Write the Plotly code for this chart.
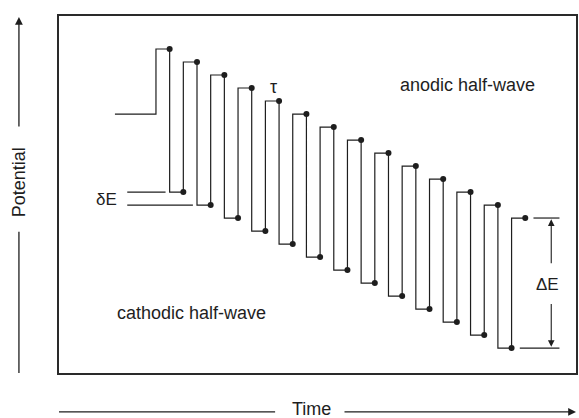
import plotly.graph_objects as go

# ---- data (time in half-periods tau, potential in units of step dE) ----
initial_time = [-3, 0]
initial_potential = [18, 18]
top_time = [1, 3, 5, 7, 9, 11, 13, 15, 17, 19, 21, 23, 25, 27]
top_potential = [23, 22, 21, 20, 19, 18, 17, 16, 15, 14, 13, 12, 11, 10]
bottom_time = [2, 4, 6, 8, 10, 12, 14, 16, 18, 20, 22, 24, 26]
bottom_potential = [12, 11, 10, 9, 8, 7, 6, 5, 4, 3, 2, 1, 0]

labels = {
    "anodic": "anodic half-wave",
    "cathodic": "cathodic half-wave",
    "tau": "τ",
    "dE": "δE",
    "DE": "ΔE",
    "x": "Time",
    "y": "Potential",
}

INK = "#1e1e1e"
FONT = "Liberation Sans, Arial, sans-serif"

# ---- build staircase path from the lists ----
px, py = list(initial_time), list(initial_potential)
for i, (tt, te) in enumerate(zip(top_time, top_potential)):
    px += [tt - 1, tt]
    py += [te, te]
    if i < len(bottom_time):
        bt, be = bottom_time[i], bottom_potential[i]
        px += [tt, bt]
        py += [be, be]

fig = go.Figure()
fig.add_trace(go.Scatter(x=px, y=py, mode="lines",
                         line=dict(color=INK, width=1.2), hoverinfo="skip"))
fig.add_trace(go.Scatter(x=top_time, y=top_potential, mode="markers",
                         marker=dict(color=INK, size=6), hoverinfo="skip"))
fig.add_trace(go.Scatter(x=bottom_time, y=bottom_potential, mode="markers",
                         marker=dict(color=INK, size=6), hoverinfo="skip"))

line_kw = dict(color=INK, width=1.2)
# dE reference lines
fig.add_shape(type="line", x0=-2.1, x1=0.7, y0=bottom_potential[0], y1=bottom_potential[0], line=line_kw)
fig.add_shape(type="line", x0=-2.1, x1=2.7, y0=bottom_potential[1], y1=bottom_potential[1], line=line_kw)
# DE reference lines
fig.add_shape(type="line", x0=27.6, x1=29.5, y0=top_potential[-1], y1=top_potential[-1], line=line_kw)
fig.add_shape(type="line", x0=26.6, x1=29.5, y0=bottom_potential[-1], y1=bottom_potential[-1], line=line_kw)

annos = []
# DE arrows
annos.append(dict(x=28.9, y=top_potential[-1] - 0.1, ax=28.9, ay=6.4, xref="x", yref="y",
                  axref="x", ayref="y", text="", showarrow=True, arrowhead=2,
                  arrowsize=1.2, arrowwidth=1.1, arrowcolor=INK))
annos.append(dict(x=28.9, y=bottom_potential[-1] + 0.1, ax=28.9, ay=3.5, xref="x", yref="y",
                  axref="x", ayref="y", text="", showarrow=True, arrowhead=2,
                  arrowsize=1.2, arrowwidth=1.1, arrowcolor=INK))
annos.append(dict(x=28.6, y=4.85, xref="x", yref="y", text=labels["DE"], showarrow=False,
                  xanchor="center", yanchor="middle",
                  font=dict(family=FONT, size=17, color=INK)))
annos.append(dict(x=-2.7, y=11.45, xref="x", yref="y", text=labels["dE"], showarrow=False,
                  xanchor="right", yanchor="middle", font=dict(family=FONT, size=17, color=INK)))
annos.append(dict(x=8.6, y=20.1, xref="x", yref="y", text=labels["tau"], showarrow=False,
                  xanchor="center", yanchor="middle",
                  font=dict(family=FONT, size=18, color=INK)))
annos.append(dict(x=22.8, y=20.2, xref="x", yref="y", text=labels["anodic"], showarrow=False,
                  xanchor="center", yanchor="middle",
                  font=dict(family=FONT, size=18, color=INK)))
annos.append(dict(x=2.6, y=2.7, xref="x", yref="y", text=labels["cathodic"], showarrow=False,
                  xanchor="center", yanchor="middle",
                  font=dict(family=FONT, size=18, color=INK)))

# axis titles with arrows (paper coords)
annos.append(dict(x=-0.077, y=0.535, xref="paper", yref="paper", text=labels["y"],
                  xanchor="center", yanchor="middle",
                  textangle=-90, showarrow=False, font=dict(family=FONT, size=18, color=INK)))
annos.append(dict(x=0.488, y=-0.102, xref="paper", yref="paper", text=labels["x"],
                  xanchor="center", yanchor="middle",
                  showarrow=False, font=dict(family=FONT, size=18, color=INK)))
# potential arrow (up)
annos.append(dict(x=-0.0775, y=0.997, xref="paper", yref="paper", ax=0, ay=111,
                  text="", showarrow=True, arrowhead=2, arrowsize=1.2, arrowwidth=1.3,
                  arrowcolor=INK))
fig.add_shape(type="line", xref="paper", yref="paper", x0=-0.0775, x1=-0.0775,
              y0=0.0, y1=0.396, line=dict(color=INK, width=1.3))
# time arrow (right)
annos.append(dict(x=1.0, y=-0.109, xref="paper", yref="paper", ax=-233, ay=0,
                  text="", showarrow=True, arrowhead=2, arrowsize=1.2, arrowwidth=1.3,
                  arrowcolor=INK))
fig.add_shape(type="line", xref="paper", yref="paper", x0=0.0, x1=0.418,
              y0=-0.109, y1=-0.109, line=dict(color=INK, width=1.3))

fig.update_layout(
    width=579, height=418,
    margin=dict(l=59, r=1, t=16, b=45),
    paper_bgcolor="white", plot_bgcolor="white",
    showlegend=False,
    annotations=annos,
    xaxis=dict(range=[-7.09, 30.71], showgrid=False, zeroline=False, showticklabels=False,
               ticks="", showline=True, mirror=True, linecolor="#2a2a2a", linewidth=2),
    yaxis=dict(range=[-1.92, 25.54], showgrid=False, zeroline=False, showticklabels=False,
               ticks="", showline=True, mirror=True, linecolor="#2a2a2a", linewidth=2),
)

fig.write_html("out.html")
